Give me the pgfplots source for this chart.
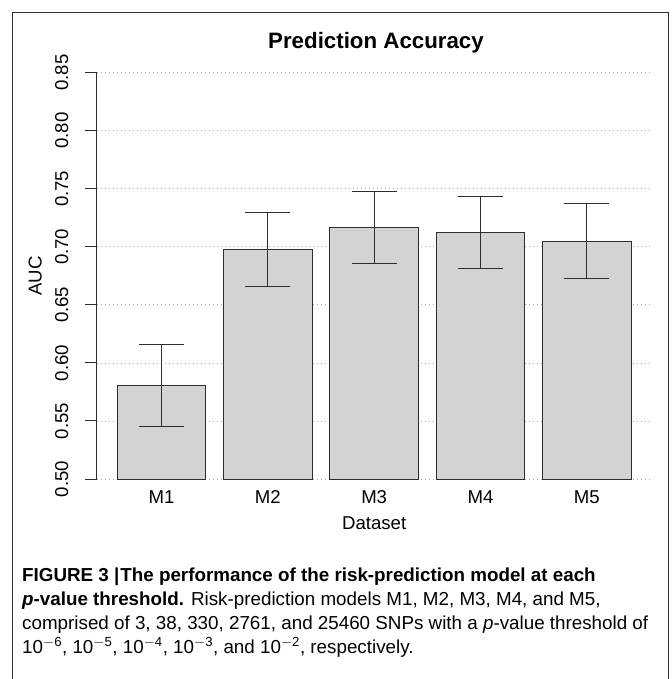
\documentclass[border=0pt]{standalone}
\usepackage{fontspec}
\setmainfont{Liberation Sans}
\usepackage{pgfplots}
\usepackage{pgfplotstable}
\pgfplotsset{compat=1.18}
\definecolor{barfill}{RGB}{211,211,211}
\definecolor{ink}{RGB}{45,45,45}
\pgfplotstableread{
x y e
0.7 0.5805 0.0355
1.9 0.698 0.032
3.1 0.717 0.031
4.3 0.712 0.031
5.5 0.705 0.032
}\auc
\begin{document}
\begin{tikzpicture}
\useasboundingbox (0,0) rectangle (672bp,-679bp);
\draw[ink, line width=1bp] (12.5bp,-700bp) -- (12.5bp,-12bp) -- (668.5bp,-12bp) -- (668.5bp,-700bp);
\node[font=\fontsize{22.3bp}{26bp}\selectfont\bfseries, anchor=base] at (376bp,-48.5bp) {Prediction Accuracy};
\begin{axis}[
  at={(99.5bp,-479bp)}, anchor=origin,
  scale only axis, width=555bp, height=406.3bp,
  xmin=-0.032, xmax=6.232, ymin=0.5, ymax=0.85,
  axis lines*=left,
  axis line style={-, ink, line width=1bp},
  x axis line style={draw=none},
  tick align=outside, major tick length=11.6bp,
  ytick={0.5,0.55,0.6,0.65,0.7,0.75,0.8,0.85},
  y tick style={ink, line width=1bp},
  xtick={0.7,1.9,3.1,4.3,5.5},
  xticklabels={M1,M2,M3,M4,M5},
  x tick style={draw=none},
  /pgf/number format/assume math mode=true,
  yticklabel={\pgfmathprintnumber[fixed,fixed zerofill,precision=2]{\tick}},
  tick label style={font=\fontsize{18.6bp}{22bp}\selectfont, text=black},
  yticklabel style={rotate=90, anchor=base, yshift=17bp},
  xticklabel style={anchor=base, yshift=-13bp},
  ymajorgrids,
  grid style={gray!65, line width=0.8bp, dash pattern=on 1bp off 3bp},
  xlabel={Dataset}, ylabel={AUC},
  label style={font=\fontsize{18.6bp}{22bp}\selectfont},
  xlabel style={at={(axis description cs:0.5,0)}, anchor=base, yshift=-50bp},
  ylabel style={at={(axis description cs:0,0.5)}, anchor=base, yshift=55bp},
  clip=true,
]
\addplot[ybar, bar width=1, fill=barfill, draw=ink, line width=1bp,
  error bars/.cd, y dir=both, y explicit, error mark=|,
  error bar style={ink, line width=1bp},
  error mark options={ink, line width=1bp, mark size=22.5bp}]
  table[x=x, y=y, y error=e] {\auc};
\end{axis}
\begin{scope}[font=\fontsize{18.8bp}{24bp}\selectfont]
\node[anchor=base west, inner sep=0pt] at (22bp,-581bp) {\textbf{FIGURE 3 {\fontsize{18.8bp}{24bp}\selectfont|}\kern1bp The performance of the risk-prediction model at each}};
\node[anchor=base west, inner sep=0pt] at (22bp,-605bp) {\textbf{\textit{p}-value threshold.} Risk-prediction models M1, M2, M3, M4, and M5,};
\node[anchor=base west, inner sep=0pt] at (22bp,-629bp) {comprised of 3, 38, 330, 2761, and 25460 SNPs with a \textit{p}-value threshold of};
\node[anchor=base west, inner sep=0pt] at (22bp,-653bp) {10\textsuperscript{$-$6}, 10\textsuperscript{$-$5}, 10\textsuperscript{$-$4}, 10\textsuperscript{$-$3}, and 10\textsuperscript{$-$2}, respectively.};
\end{scope}
\end{tikzpicture}
\end{document}
